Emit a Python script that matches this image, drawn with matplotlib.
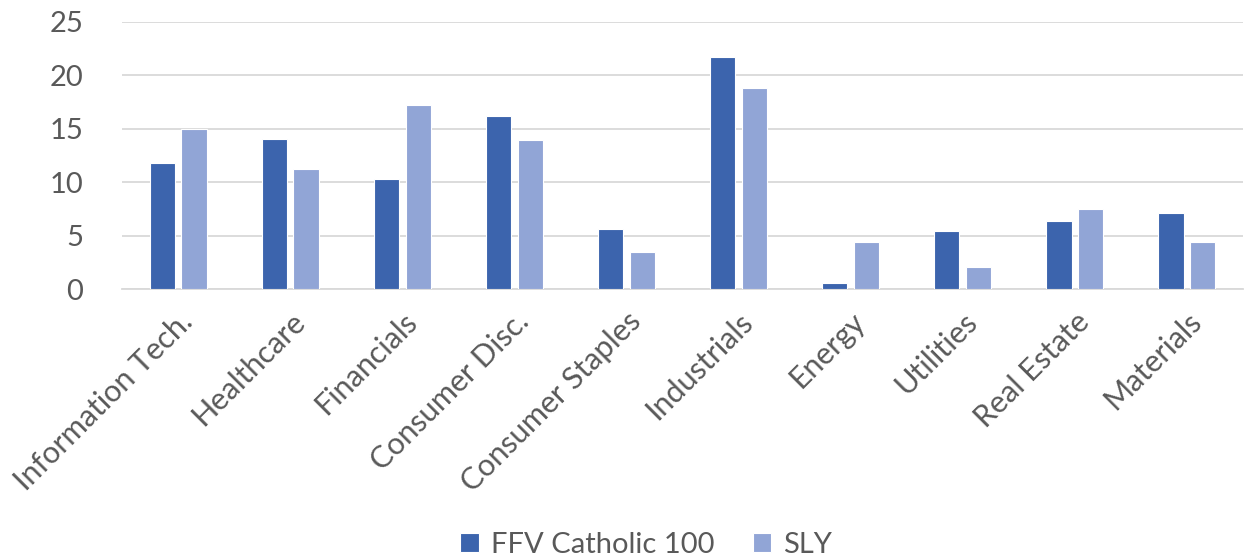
import matplotlib
matplotlib.use("Agg")
import matplotlib.pyplot as plt
import numpy as np

categories = ["Information Tech.", "Healthcare", "Financials", "Consumer Disc.",
              "Consumer Staples", "Industrials", "Energy", "Utilities",
              "Real Estate", "Materials"]
ffv = [11.8, 14.0, 10.3, 16.2, 5.6, 21.7, 0.6, 5.4, 6.4, 7.1]
sly = [15.0, 11.2, 17.2, 13.9, 3.5, 18.8, 4.4, 2.1, 7.5, 4.4]
series_names = ["FFV Catholic 100", "SLY"]
yticks = [0, 5, 10, 15, 20, 25]

plt.rcParams['font.family'] = ['Lato', 'DejaVu Sans']
fig = plt.figure(figsize=(12.5, 5.59), dpi=100)
ax = fig.add_axes([0.0976, 0.483, 0.8968, 0.478])

x = np.arange(len(categories))
w = 0.225
off = 0.142
ax.bar(x - off, ffv, w, color="#3C64AD", edgecolor="white", linewidth=0.8, label=series_names[0], zorder=3)
ax.bar(x + off, sly, w, color="#91A5D6", edgecolor="white", linewidth=0.8, label=series_names[1], zorder=3)

ax.set_xlim(-0.5, len(categories) - 0.5)
ax.set_ylim(0, 25)
ax.set_yticks(yticks)
ax.yaxis.grid(True, color="#D9D9D9", linewidth=1.3, zorder=0)
ax.set_axisbelow(True)
for s in ["top", "right", "left"]:
    ax.spines[s].set_visible(False)
ax.spines["bottom"].set_color("#D9D9D9")
ax.spines["bottom"].set_linewidth(1.3)
ax.tick_params(axis="y", length=0, labelsize=21, labelcolor="#595959", pad=28)
ax.set_xticks(x)
ax.set_xticklabels(categories, rotation=45, ha="right", rotation_mode="anchor")
ax.tick_params(axis="x", length=0, labelsize=22, labelcolor="#595959", pad=13)

leg = fig.legend(loc="lower center", bbox_to_anchor=(0.517, -0.045), ncol=2, frameon=False,
                 fontsize=21, handlelength=0.65, handleheight=0.65, columnspacing=1.3,
                 handletextpad=0.4)
for t in leg.get_texts():
    t.set_color("#595959")

fig.savefig("out.png", dpi=100)
